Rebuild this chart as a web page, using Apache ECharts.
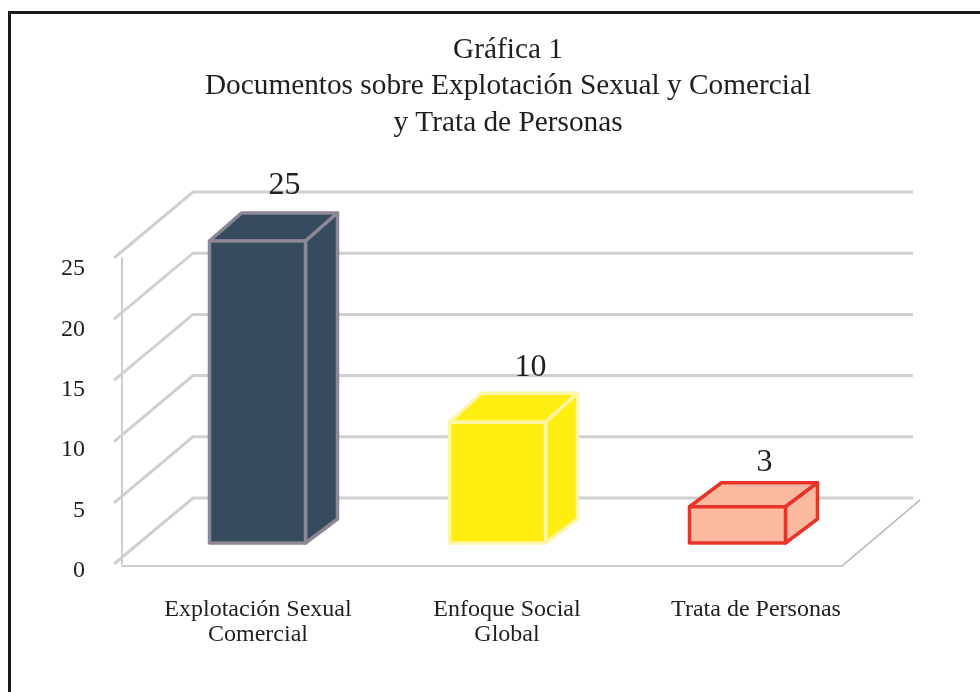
<!DOCTYPE html>
<html>
<head>
<meta charset="utf-8">
<script src="https://cdn.jsdelivr.net/npm/echarts@6/dist/echarts.min.js"></script>
<style>
  html, body { margin: 0; padding: 0; background: #fff; }
  #chart { width: 980px; height: 692px; }
  #frame { position: absolute; left: 8px; top: 11px; right: 0; bottom: 0; border-left: 3px solid #1a1a1a; border-top: 3px solid #1a1a1a; pointer-events: none; }
</style>
</head>
<body>
<div id="chart"></div>
<div id="frame"></div>
<script>
const titleText = 'Gráfica 1\nDocumentos sobre Explotación Sexual y Comercial\ny Trata de Personas';
const categories = ['Explotación Sexual\nComercial', 'Enfoque Social\nGlobal', 'Trata de Personas'];
const values = [25, 10, 3];
const yTicks = [0, 5, 10, 15, 20, 25];
const fills = ['#374b5e', '#ffee10', '#fbb9a0'];
const strokes = ['#8b8794', '#fff5a6', '#e8352a'];

const serif = '"Liberation Serif", "Times New Roman", serif';
const textColor = '#1f1f1f';
const gridColor = '#d0d0d0';
const axisColor = '#bdbdbd';

// 3D look: how far the bars and the back wall are pushed from the front plane
const barShiftX = 15.5, barShiftY = -23, barWidth = 96, barDepthX = 32, baseDepthY = -24;
const barDepthY = [-28, -29, -24];
const labelShiftX = [27, 33, 27];
const labelGap = [-27, -26, -20];
const wallOutX = -8, wallDepthX = 79, wallDepthY = -66, wallEndX = 71;

const chart = echarts.init(document.getElementById('chart'));

function renderWall(params, api) {
  const v = api.value(0);
  const l = api.coord([0, v]);
  const r = api.coord([1, v]);
  return {
    type: 'polyline',
    shape: { points: [[l[0] + wallOutX, l[1]], [l[0] + wallOutX + wallDepthX, l[1] + wallDepthY], [r[0] + wallEndX, l[1] + wallDepthY]] },
    style: { fill: null, stroke: gridColor, lineWidth: 3 }
  };
}

function renderFloor(params, api) {
  const p = api.coord([2, 0]);
  const x = p[0] + api.size([1, 0])[0] / 2;
  return {
    type: 'line',
    shape: { x1: x, y1: p[1], x2: x + 78, y2: p[1] - 66 },
    style: { stroke: '#b4b4b4', lineWidth: 1.5 }
  };
}

function renderBar(params, api) {
  const i = api.value(0);
  const top = api.coord([i, api.value(1)]);
  const base = api.coord([i, 0]);
  const x0 = top[0] + barShiftX - barWidth / 2;
  const x1 = x0 + barWidth;
  const y0 = top[1] + barShiftY;
  const y1 = base[1] + barShiftY;
  const dy = barDepthY[i];
  const style = { fill: fills[i], stroke: strokes[i], lineWidth: 3.5, lineJoin: 'round' };
  return {
    type: 'group',
    children: [
      { type: 'polygon', shape: { points: [[x0, y0], [x0 + barDepthX, y0 + dy], [x1 + barDepthX, y0 + dy], [x1, y0]] }, style: style },
      { type: 'polygon', shape: { points: [[x1, y0], [x1 + barDepthX, y0 + dy], [x1 + barDepthX, y1 + baseDepthY], [x1, y1]] }, style: style },
      { type: 'rect', shape: { x: x0, y: y0, width: barWidth, height: y1 - y0 }, style: style },
      {
        type: 'text',
        style: {
          x: (x0 + x1) / 2 + labelShiftX[i], y: y0 + dy + labelGap[i],
          text: String(api.value(1)), font: '32px ' + serif, fill: textColor,
          align: 'center', verticalAlign: 'middle'
        }
      }
    ]
  };
}

chart.setOption({
  animation: false,
  backgroundColor: '#fff',
  title: {
    text: titleText,
    left: 503,
    top: 27,
    textAlign: 'center',
    textStyle: { fontFamily: serif, fontWeight: 'normal', fontSize: 29.3, lineHeight: 36.5, color: textColor }
  },
  grid: [
    { left: 122, width: 720, top: 264, height: 302 }, // bars
    { left: 122, width: 720, top: 258, height: 306 }, // back wall lines
    { left: 133.5, width: 747, top: 269, height: 302 } // tick and category labels
  ],
  xAxis: [
    {
      gridIndex: 0, type: 'category', data: categories,
      axisTick: { show: false }, axisLabel: { show: false },
      axisLine: { lineStyle: { color: axisColor, width: 1.5 } }
    },
    { gridIndex: 1, type: 'value', min: 0, max: 1, show: false },
    {
      gridIndex: 2, type: 'category', data: categories,
      axisTick: { show: false }, axisLine: { show: false },
      axisLabel: { fontFamily: serif, fontSize: 24, lineHeight: 25, color: textColor, margin: 26, interval: 0 }
    }
  ],
  yAxis: [
    {
      gridIndex: 0, type: 'value', min: 0, max: 25, interval: 5,
      splitLine: { show: false }, axisTick: { show: false },
      axisLine: { show: false }, axisLabel: { show: false }
    },
    {
      gridIndex: 1, type: 'value', min: 0, max: 25, interval: 5,
      splitLine: { show: false }, axisTick: { show: false }, axisLabel: { show: false },
      axisLine: { show: true, lineStyle: { color: axisColor, width: 1.5 } }
    },
    {
      gridIndex: 2, type: 'value', min: 0, max: 25, interval: 5,
      splitLine: { show: false }, axisTick: { show: false }, axisLine: { show: false },
      axisLabel: { fontFamily: serif, fontSize: 24, color: textColor, margin: 48.5 }
    }
  ],
  series: [
    { type: 'custom', xAxisIndex: 1, yAxisIndex: 1, z: 1, silent: true, renderItem: renderWall, data: yTicks.map(v => [v]), encode: { y: 0 } },
    { type: 'custom', xAxisIndex: 0, yAxisIndex: 0, z: 1, silent: true, renderItem: renderFloor, data: [[0]] },
    { type: 'custom', xAxisIndex: 0, yAxisIndex: 0, z: 3, silent: true, renderItem: renderBar, data: values.map((v, i) => [i, v]), encode: { x: 0, y: 1 } }
  ]
});
</script>
</body>
</html>
